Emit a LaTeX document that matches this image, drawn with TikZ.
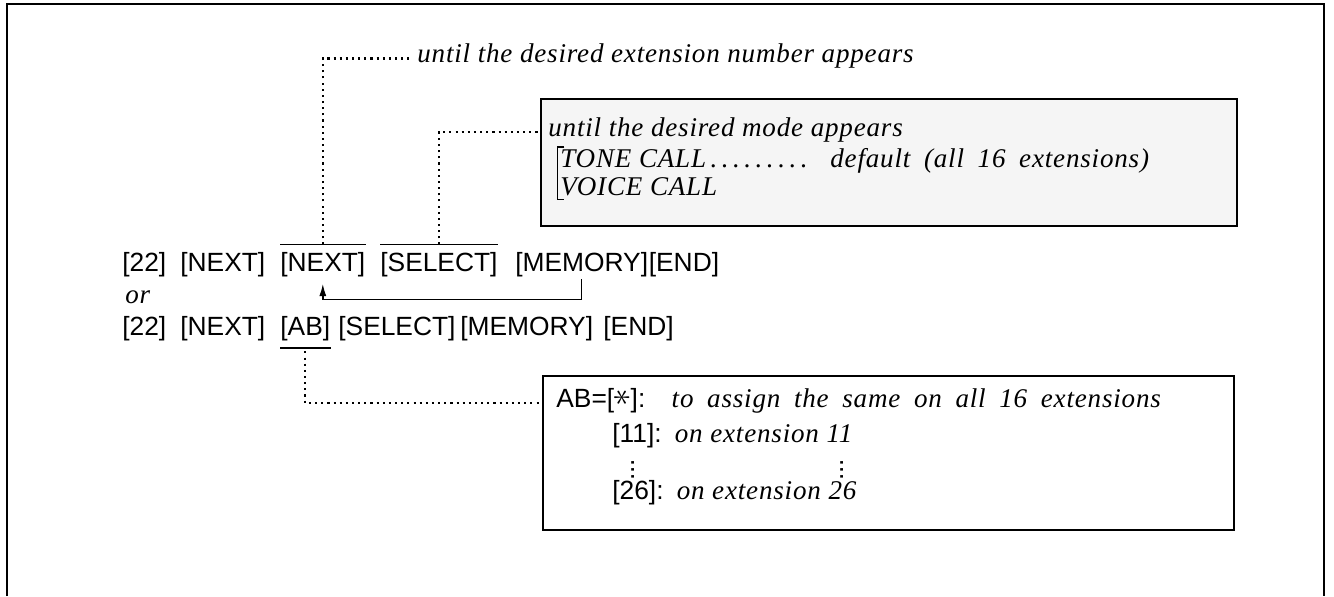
\documentclass[tikz,border=0pt]{standalone}
\usepackage{fontspec}
\setmainfont{Liberation Serif}
\setsansfont{Liberation Sans}
\usetikzlibrary{arrows.meta}

\newcommand{\notefont}{\rmfamily\itshape\fontsize{15.4}{18}\selectfont\addfontfeature{LetterSpace=3}}
\newcommand{\widespc}{\spaceskip=1.8\fontdimen2\font}
\newcommand{\keystar}{\raisebox{0.1ex}{\rotatebox[origin=c]{90}{\scalebox{1.4}{$\ast$}}}}
\newcommand{\colstack}{\rotatebox[origin=c]{90}{...}}

\begin{document}
\begin{tikzpicture}[
    x=0.02cm, y=-0.02cm,
    keylbl/.style={font=\sffamily\fontsize{15}{17}\selectfont, inner sep=0pt, anchor=base west},
    notelbl/.style={font=\notefont, inner sep=0pt, anchor=base west},
    dotln/.style={line width=1.2pt, dash pattern=on 1.2pt off 2.3pt},
    boxfr/.style={draw, line width=1pt, inner sep=0pt, anchor=north west},
    arr/.style={-{Latex[length=7pt,width=4pt]}, line width=0.8pt},
]
\useasboundingbox (0,0) rectangle (1334,596);

% Outer frame (open at the bottom)
\draw[line width=1.4pt] (7,596) -- (7,4) -- (1324,4) -- (1324,596);

% Top note
\node[notelbl] (extnote) at (417,62) {until the desired extension number appears};

% Mode box
\node[boxfr, fill=black!4, minimum width=13.92cm, minimum height=2.54cm] (modebox) at (540,98) {};
\node[notelbl] (modenote) at (548,136) {until the desired mode appears};
\node[notelbl] (tonelbl) at (560,167) {TONE CALL\,.\,.\,.\,.\,.\,.\,.\,.\,.};
\node[notelbl] (dfltlbl) at (830,167) {\widespc default (all 16 extensions)};
\node[notelbl] (voicelbl) at (560,195) {VOICE CALL};
\draw[line width=0.6pt] ([xshift=2.5pt,yshift=1pt]tonelbl.north west) -- ([xshift=-1.5pt,yshift=1pt]tonelbl.north west)
    |- ([xshift=2.5pt,yshift=-2pt]voicelbl.south west);

% First key sequence
\node[keylbl] (k22a) at (122,271) {[22]};
\node[keylbl] (nexta) at (180,271) {[NEXT]};
\node[keylbl] (nextb) at (280,271) {[NEXT]};
\node[keylbl] (sela) at (380,271) {[SELECT]};
\node[keylbl] (mema) at (515,271) {[MEMORY]};
\node[keylbl] (enda) at (mema.base east) {[END]};

\draw[line width=0.8pt] ([yshift=4pt]nextb.north west) -- ([yshift=4pt]nextb.north east);
\draw[line width=0.8pt] ([yshift=4pt]sela.north west) -- ([yshift=4pt]sela.north east);

\draw[dotln] ([yshift=4pt]nextb.north) |- ([xshift=-2pt,yshift=2pt]extnote.base west);
\draw[dotln] ([yshift=4pt]sela.north) |- (modebox.west |- modenote.mid);

% Return loop
\draw[arr] ([yshift=-1.5pt]mema.south) -- ++(0,20) -| ([yshift=-4pt]nextb.south);

\node[notelbl] (orlbl) at (125,303) {or};

% Second key sequence
\node[keylbl] (k22b) at (122,335) {[22]};
\node[keylbl] (nextc) at (180,335) {[NEXT]};
\node[keylbl] (abkey) at (280,335) {[AB]};
\node[keylbl] (selb) at (338,335) {[SELECT]};
\node[keylbl] (memb) at (460,335) {[MEMORY]};
\node[keylbl] (endb) at (603,335) {[END]};

\draw[line width=0.8pt] ([yshift=-4pt]abkey.south west) -- ([yshift=-4pt]abkey.south east);

% AB box
\node[boxfr, fill=white, minimum width=13.82cm, minimum height=3.08cm] (abbox) at (542,375) {};
\node[keylbl] (abline) at (556,407) {AB=[\keystar]:\quad{\notefont\widespc to assign the same on all 16 extensions}};
\node[keylbl] (k11) at (612,442) {[11]:\enspace{\notefont on extension 11}};
\node[keylbl] (k26) at (612,499) {[26]:\enspace{\notefont on extension 26}};
\node[keylbl, anchor=center] (vdl) at (633,470) {\colstack};
\node[keylbl, anchor=center, xshift=-6pt] (vdr) at (k11.east |- vdl.center) {\colstack};

\draw[dotln] ([yshift=-6pt]abkey.south) |- (abbox.west |- abline.mid);

\end{tikzpicture}
\end{document}
